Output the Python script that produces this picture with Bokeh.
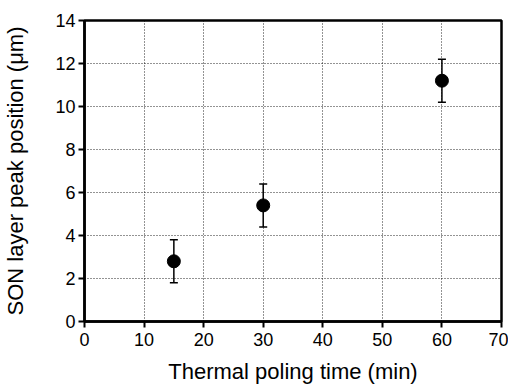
from bokeh.plotting import figure
from bokeh.models import ColumnDataSource, Whisker, TeeHead, FixedTicker, Range1d
from bokeh.embed import file_html
from bokeh.resources import INLINE

time_min = [15, 30, 60]
peak_um = [2.8, 5.4, 11.2]
err_um = [1.0, 1.0, 1.0]
x_ticks = [0, 10, 20, 30, 40, 50, 60, 70]
y_ticks = [0, 2, 4, 6, 8, 10, 12, 14]

src = ColumnDataSource(dict(
    x=time_min, y=peak_um,
    upper=[v + e for v, e in zip(peak_um, err_um)],
    lower=[v - e for v, e in zip(peak_um, err_um)],
))

p = figure(width=508, height=386, output_backend="svg", toolbar_location=None,
           x_range=Range1d(0, 70), y_range=Range1d(0, 14),
           min_border_left=84, min_border_top=20, min_border_right=7, min_border_bottom=61)
p.background_fill_color = "white"
p.border_fill_color = "white"
p.outline_line_color = "black"
p.outline_line_width = 2.5

for ax in (p.xaxis[0], p.yaxis[0]):
    ax.axis_line_width = 2.5
    ax.major_tick_line_width = 2
    ax.major_tick_out = 6
    ax.major_tick_in = 0
    ax.minor_tick_out = 0
    ax.minor_tick_in = 0
    ax.major_label_text_font = "Liberation Sans"
    ax.major_label_text_font_size = "18px"
    ax.major_label_text_color = "black"
    ax.axis_label_text_font = "Liberation Sans"
    ax.axis_label_text_font_size = "22px"
    ax.axis_label_text_font_style = "normal"
    ax.axis_label_text_color = "black"

p.xaxis.ticker = FixedTicker(ticks=x_ticks)
p.yaxis.ticker = FixedTicker(ticks=y_ticks)
p.xaxis.axis_label = "Thermal poling time (min)"
p.yaxis.axis_label = "SON layer peak position (μm)"
p.xaxis.major_label_standoff = 5
p.yaxis.major_label_standoff = 3
p.xaxis.axis_label_standoff = 10
p.yaxis.axis_label_standoff = 24

p.grid.grid_line_color = "black"
p.grid.grid_line_width = 1
p.grid.grid_line_dash = "1 2"
p.grid.grid_line_alpha = 0.85

w = Whisker(source=src, base="x", upper="upper", lower="lower",
            line_color="black", line_width=1.5,
            upper_head=TeeHead(size=8, line_width=1.5, line_color="black"),
            lower_head=TeeHead(size=8, line_width=1.5, line_color="black"))
p.add_layout(w)
p.scatter("x", "y", source=src, size=13, marker="circle",
          fill_color="black", line_color="black")

open("out.html", "w").write(file_html(p, INLINE))
